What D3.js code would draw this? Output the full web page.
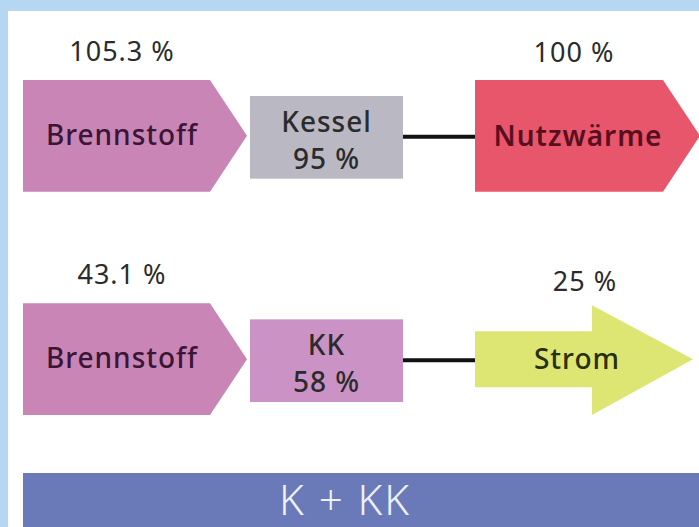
<!DOCTYPE html>
<html>
<head>
    <meta charset="utf-8">
    <title>K + KK</title>
    <style>
        body { margin: 0; background: #b5d7f2; }
        svg { display: block; }
        text { font-family: "Noto Sans", "Open Sans", sans-serif; }
        .value { fill: #2b2b2b; font-size: 27px; letter-spacing: 1px; }
        .label { font-size: 28px; letter-spacing: 1px; font-weight: 500; }
        line.link { stroke: #111; stroke-width: 4px; }
    </style>
    <script src="https://cdn.jsdelivr.net/npm/d3@7"></script>
</head>
<body>
    <svg width="699" height="527"></svg>
    <script>
        // chart data
        var rows = ["K", "KK"];
        var inputLabels = ["Brennstoff", "Brennstoff"];
        var inputValues = [105.3, 43.1];
        var processLabels = ["Kessel", "KK"];
        var processEfficiency = [95, 58];
        var outputLabels = ["Nutzwärme", "Strom"];
        var outputValues = [100, 25];
        var footer = "K + KK";

        var svg = d3.select("svg");
        var width = +svg.attr("width"), height = +svg.attr("height");
        var fmt = function (v) { return String(v).replace(/\.0$/, "") + " %"; };

        // white panel + footer bar
        svg.append("rect").attr("x", 8).attr("y", 11)
            .attr("width", width - 8).attr("height", height - 11).attr("fill", "#fff");
        svg.append("rect").attr("x", 23).attr("y", 473)
            .attr("width", width - 23).attr("height", height - 473).attr("fill", "#6a7ab8");
        svg.append("text").attr("x", 345).attr("y", 515)
            .attr("text-anchor", "middle").attr("fill", "#eef0fa")
            .style("font-size", "42px").style("font-weight", 300).style("letter-spacing", "2px")
            .text(footer);

        var y = d3.scaleBand().domain(rows).range([80, 415]).paddingInner(0.5).paddingOuter(0);
        var bw = y.bandwidth();

        // column layout
        var col = { inL: 23, inShoulder: 210, inTip: 247, boxL: 250, boxR: 403, outL: 475, outR: 699 };

        var inputColor = "#c985b5", processColors = ["#b9b8c3", "#cb93c5"],
            outputColors = ["#e8566b", "#dde673"], outputText = ["#5a0f1f", "#283008"];

        var g = svg.selectAll("g.row").data(rows).enter().append("g").attr("class", "row");

        // input pentagon arrows
        g.append("path")
            .attr("fill", inputColor)
            .attr("d", function (d) {
                var t = y(d), b = t + bw, m = t + bw / 2;
                return d3.line()([[col.inL, t], [col.inShoulder, t], [col.inTip, m], [col.inShoulder, b], [col.inL, b]]) + "Z";
            });
        g.append("text").attr("class", "label")
            .attr("x", 122).attr("y", function (d) { return y(d) + bw / 2 + 9; })
            .attr("text-anchor", "middle").attr("fill", "#3a1535")
            .text(function (d, i) { return inputLabels[i]; });
        g.append("text").attr("class", "value")
            .attr("x", 122).attr("y", function (d) { return y(d) - 19; })
            .attr("text-anchor", "middle")
            .text(function (d, i) { return fmt(inputValues[i]); });

        // process boxes
        g.append("rect")
            .attr("x", col.boxL).attr("width", col.boxR - col.boxL)
            .attr("y", function (d) { return y(d) + 16; })
            .attr("height", bw - 29)
            .attr("fill", function (d, i) { return processColors[i]; });
        var cx = (col.boxL + col.boxR) / 2;
        g.append("text").attr("class", "label")
            .attr("x", cx).attr("y", function (d) { return y(d) + bw / 2 - 4; })
            .attr("text-anchor", "middle").attr("fill", "#2b2b2b")
            .text(function (d, i) { return processLabels[i]; });
        g.append("text").attr("class", "label")
            .attr("x", cx).attr("y", function (d) { return y(d) + bw / 2 + 33; })
            .attr("text-anchor", "middle").attr("fill", "#2b2b2b")
            .text(function (d, i) { return fmt(processEfficiency[i]); });

        // connector
        g.append("line").attr("class", "link")
            .attr("x1", col.boxR).attr("x2", col.outL)
            .attr("y1", function (d) { return y(d) + bw / 2 + 1; })
            .attr("y2", function (d) { return y(d) + bw / 2 + 1; });

        // outputs: pentagon for heat, block arrow for power
        g.append("path")
            .attr("fill", function (d, i) { return outputColors[i]; })
            .attr("d", function (d, i) {
                var t = y(d), b = t + bw, m = t + bw / 2;
                if (i === 0) {
                    return d3.line()([[col.outL, t], [663, t], [col.outR + 1, m], [663, b], [col.outL, b]]) + "Z";
                }
                return d3.line()([[col.outL, m - 28], [592, m - 28], [592, t + 2], [693, m], [592, b],
                    [592, m + 28], [col.outL, m + 28]]) + "Z";
            });
        g.append("text").attr("class", "label")
            .attr("x", function (d, i) { return i === 0 ? 578 : 577; })
            .attr("y", function (d) { return y(d) + bw / 2 + 10; })
            .attr("text-anchor", "middle")
            .attr("fill", function (d, i) { return outputText[i]; })
            .style("font-weight", function (d, i) { return i === 0 ? 600 : 500; })
            .text(function (d, i) { return outputLabels[i]; });
        g.append("text").attr("class", "value")
            .attr("x", function (d, i) { return i === 0 ? 574 : 585; })
            .attr("y", function (d, i) { return y(d) - (i === 0 ? 18 : 12); })
            .attr("text-anchor", "middle")
            .text(function (d, i) { return fmt(outputValues[i]); });
    </script>
</body>
</html>
